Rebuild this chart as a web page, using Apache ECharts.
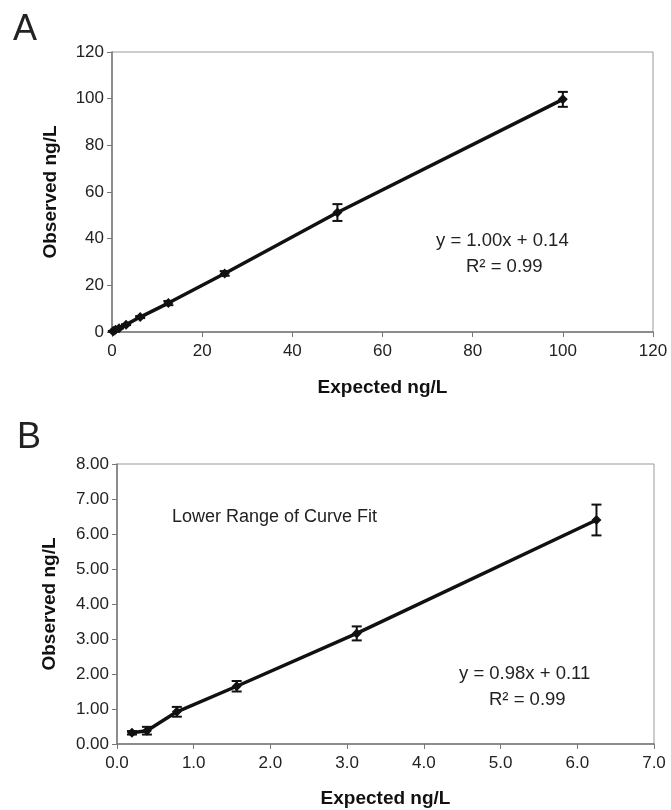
<!DOCTYPE html>
<html>
<head>
<meta charset="utf-8">
<script src="https://cdn.jsdelivr.net/npm/echarts@6/dist/echarts.min.js"></script>
<style>
  html, body { margin: 0; padding: 0; background: #fff; }
  #main { width: 671px; height: 810px; }
</style>
</head>
<body>
<div id="main"></div>
<script>
// panel A: full range
var expectedA = [0.195, 0.39, 0.78, 1.56, 3.125, 6.25, 12.5, 25, 50, 100];
var observedA = [0.32, 0.38, 0.92, 1.65, 3.16, 6.4, 12.4, 25.1, 51.2, 99.7];
var errA = [0.05, 0.11, 0.14, 0.15, 0.2, 0.44, 0.9, 1.0, 3.6, 3.2];
// panel B: lower range
var expectedB = [0.195, 0.39, 0.78, 1.56, 3.125, 6.25];
var observedB = [0.32, 0.38, 0.92, 1.65, 3.16, 6.4];
var errB = [0.05, 0.11, 0.14, 0.15, 0.2, 0.44];

var font = '"Liberation Sans", Arial, sans-serif';

function zip(xs, ys) {
  return xs.map(function (x, i) { return [x, ys[i]]; });
}
function errData(xs, ys, es) {
  return xs.map(function (x, i) { return [x, ys[i] - es[i], ys[i] + es[i]]; });
}

// error bars drawn through the axis scales
function renderErr(params, api) {
  var x = api.value(0);
  var lo = api.coord([x, api.value(1)]);
  var hi = api.coord([x, api.value(2)]);
  var w = 5;
  var st = { stroke: '#111', lineWidth: 2 };
  return {
    type: 'group',
    children: [
      { type: 'line', shape: { x1: lo[0], y1: lo[1], x2: hi[0], y2: hi[1] }, style: st },
      { type: 'line', shape: { x1: lo[0] - w, y1: lo[1], x2: lo[0] + w, y2: lo[1] }, style: st },
      { type: 'line', shape: { x1: hi[0] - w, y1: hi[1], x2: hi[0] + w, y2: hi[1] }, style: st }
    ]
  };
}

function xAxis(idx, max, interval, digits, gap) {
  return {
    type: 'value', gridIndex: idx, min: 0, max: max, interval: interval,
    name: 'Expected ng/L', nameLocation: 'middle', nameGap: gap,
    nameTextStyle: { fontFamily: font, fontWeight: 'bold', fontSize: 19, color: '#111' },
    axisLine: { show: true, lineStyle: { color: '#777', width: 1.5 } },
    axisTick: { show: true, inside: false, length: 5, lineStyle: { color: '#777' } },
    axisLabel: {
      fontFamily: font, fontSize: 17, color: '#222', margin: 11,
      formatter: function (v) { return v.toFixed(digits); }
    },
    splitLine: { show: false }
  };
}
function yAxis(idx, max, interval, digits, gap) {
  return {
    type: 'value', gridIndex: idx, min: 0, max: max, interval: interval,
    name: 'Observed ng/L', nameLocation: 'middle', nameGap: gap,
    nameTextStyle: { fontFamily: font, fontWeight: 'bold', fontSize: 19, color: '#111' },
    axisLine: { show: true, lineStyle: { color: '#777', width: 1.5 } },
    axisTick: { show: true, inside: false, length: 5, lineStyle: { color: '#777' } },
    axisLabel: {
      fontFamily: font, fontSize: 17, color: '#222', margin: 8,
      formatter: function (v) { return v.toFixed(digits); }
    },
    splitLine: { show: false }
  };
}

function text(x, y, str, size, align) {
  return {
    type: 'text', left: x, top: y,
    style: { text: str, fontFamily: font, fontSize: size, fill: '#222', textAlign: align || 'left' }
  };
}

var chart = echarts.init(document.getElementById('main'));

var option = {
  animation: false,
  backgroundColor: '#fff',
  grid: [
    { left: 112, top: 52, width: 541, height: 280, show: true, borderColor: '#999', borderWidth: 1, backgroundColor: '#fff' },
    { left: 117, top: 464, width: 537, height: 280, show: true, borderColor: '#999', borderWidth: 1, backgroundColor: '#fff' }
  ],
  xAxis: [
    xAxis(0, 120, 20, 0, 46),
    xAxis(1, 7, 1, 1, 45)
  ],
  yAxis: [
    yAxis(0, 120, 20, 0, 52),
    yAxis(1, 8, 1, 2, 58)
  ],
  graphic: [
    text(13, 12, 'A', 36),
    text(17, 420, 'B', 36),
    text(436, 231, 'y = 1.00x + 0.14', 18.5),
    text(466, 257, 'R² = 0.99', 18.5),
    text(172, 508, 'Lower Range of Curve Fit', 18),
    text(459, 664, 'y = 0.98x + 0.11', 18.5),
    text(489, 690, 'R² = 0.99', 18.5)
  ],
  series: [
    {
      type: 'line', xAxisIndex: 0, yAxisIndex: 0,
      data: zip(expectedA, observedA),
      symbol: 'diamond', symbolSize: 10,
      itemStyle: { color: '#111' },
      lineStyle: { color: '#111', width: 3.5 },
      z: 3
    },
    {
      type: 'custom', xAxisIndex: 0, yAxisIndex: 0,
      renderItem: renderErr, encode: { x: 0, y: [1, 2] },
      data: errData(expectedA, observedA, errA), z: 4
    },
    {
      type: 'line', xAxisIndex: 1, yAxisIndex: 1,
      data: zip(expectedB, observedB),
      symbol: 'diamond', symbolSize: 10,
      itemStyle: { color: '#111' },
      lineStyle: { color: '#111', width: 3.5 },
      z: 3
    },
    {
      type: 'custom', xAxisIndex: 1, yAxisIndex: 1,
      renderItem: renderErr, encode: { x: 0, y: [1, 2] },
      data: errData(expectedB, observedB, errB), z: 4
    }
  ]
};

chart.setOption(option);
</script>
</body>
</html>
